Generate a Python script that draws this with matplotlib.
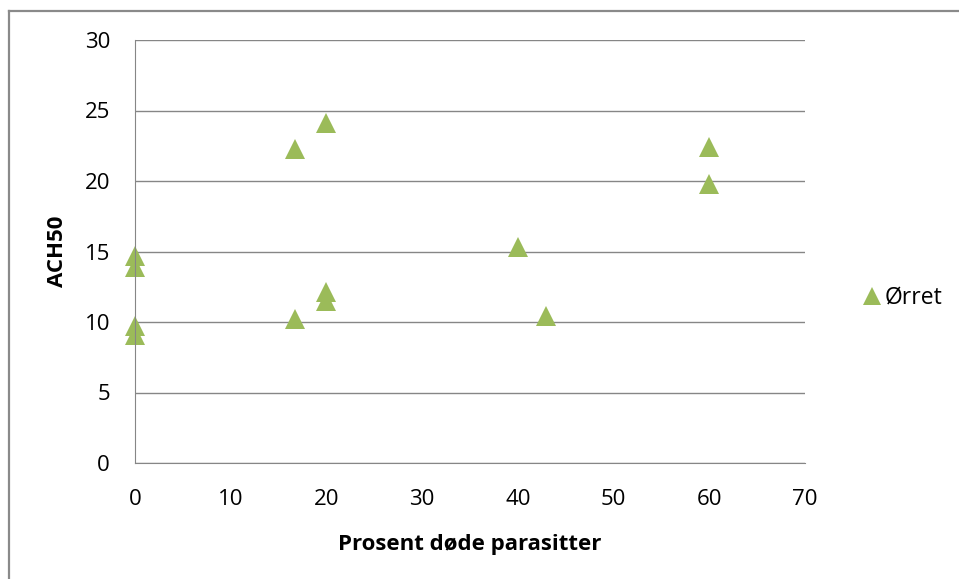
import matplotlib
matplotlib.use("Agg")
import matplotlib.pyplot as plt
from matplotlib.lines import Line2D

# Prosent døde parasitter vs ACH50 (Ørret)
prosent = [0, 0, 0, 0, 16.7, 16.7, 20, 20, 20, 40, 42.9, 60, 60]
ach50 = [14.7, 13.9, 9.7, 9.1, 22.3, 10.2, 24.1, 12.1, 11.5, 15.3, 10.4, 22.4, 19.8]
series_name = "Ørret"

GREEN = "#9BBB59"
GRID = "#868686"
FONT = ["Open Sans", "DejaVu Sans"]

W, H = 959, 579
fig = plt.figure(figsize=(W / 100, H / 100), dpi=100)
ax = fig.add_axes([135 / W, 1 - 463 / H, 670 / W, 423 / H])

ax.plot(prosent, ach50, linestyle="none", marker="^", markersize=15,
        color=GREEN, markeredgewidth=0, label=series_name, clip_on=False)

ax.set_xlim(0, 70)
ax.set_ylim(0, 30)
ax.set_xticks(range(0, 71, 10))
ax.set_yticks(range(0, 31, 5))
ax.grid(axis="y", color=GRID, lw=1)
ax.set_axisbelow(True)
for s in ("top", "right"):
    ax.spines[s].set_visible(False)
for s in ("left", "bottom"):
    ax.spines[s].set_color(GRID)
ax.tick_params(length=0, labelcolor="black", labelsize=16)
ax.tick_params(axis="y", pad=18)
ax.tick_params(axis="x", pad=19)
for lab in ax.get_xticklabels() + ax.get_yticklabels():
    lab.set_fontfamily(FONT)

ax.set_xlabel("Prosent døde parasitter", fontsize=16, fontweight="bold",
              family=FONT, labelpad=17)
ax.set_ylabel("ACH50", fontsize=16, fontweight="bold", family=FONT,
              labelpad=12)

leg = fig.legend(loc="center left", bbox_to_anchor=(840 / W, 1 - 298 / H),
                 frameon=False, handletextpad=0.05, handlelength=1.0,
                 prop={"family": FONT, "size": 16.5})
leg.legend_handles[0].set_markersize(13)

# chart frame (left and top edges visible)
fig.add_artist(Line2D([8.5 / W, 8.5 / W], [0, 1 - 10.5 / H],
                      transform=fig.transFigure, color="#8a8a8a", lw=1.6))
fig.add_artist(Line2D([8.5 / W, 1], [1 - 10.5 / H, 1 - 10.5 / H],
                      transform=fig.transFigure, color="#8a8a8a", lw=1.6))

fig.savefig("out.png", dpi=100)
